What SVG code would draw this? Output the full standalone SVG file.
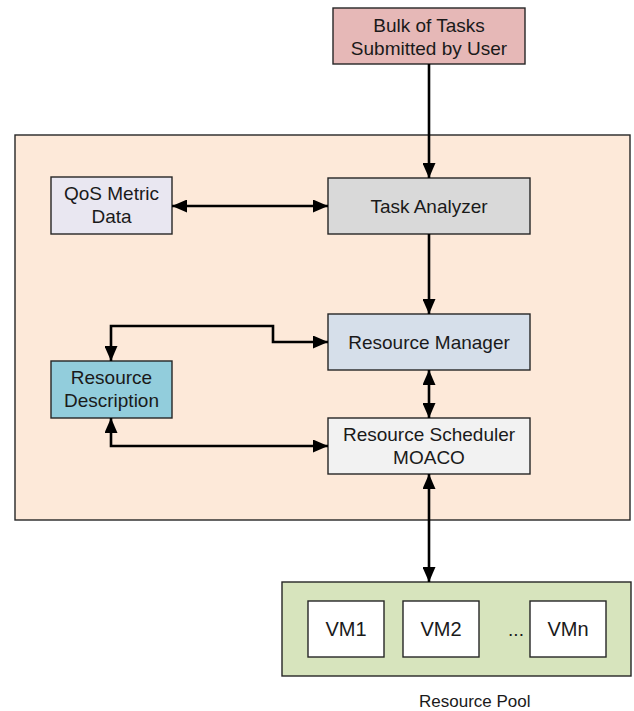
<svg xmlns="http://www.w3.org/2000/svg" width="634" height="711" viewBox="0 0 634 711">
<style>
.box{stroke:#262626;stroke-width:1.4}
.t{font-family:"Liberation Sans",Arial,sans-serif;font-size:19px;fill:#1a1a1a;text-anchor:middle}
.vm{font-size:20px}
.c{fill:none;stroke:#000;stroke-width:2.6}
</style>
<defs>
<marker id="ah" viewBox="0 0 15 13" refX="15" refY="6.5" markerWidth="15" markerHeight="13" markerUnits="userSpaceOnUse" orient="auto-start-reverse">
<path d="M0,0 L15,6.5 L0,13 Z" fill="#000"/>
</marker>
</defs>
<rect width="634" height="711" fill="#fff"/>
<g id="container">
<rect class="box" x="15" y="135" width="615" height="385" fill="#fde9d9"/>
</g>
<g id="bulk">
<rect class="box" x="333" y="8" width="192" height="56" fill="#e6b8b7"/>
<text class="t" x="429" y="32">Bulk of Tasks</text>
<text class="t" x="429" y="55">Submitted by User</text>
</g>
<g id="qos">
<rect class="box" x="51" y="177" width="121" height="57" fill="#e9e7f1"/>
<text class="t" x="111.5" y="200">QoS Metric</text>
<text class="t" x="111.5" y="223">Data</text>
</g>
<g id="task-analyzer">
<rect class="box" x="328" y="178" width="202" height="56" fill="#d9d9d9"/>
<text class="t" x="429" y="213">Task Analyzer</text>
</g>
<g id="resource-manager">
<rect class="box" x="328" y="314" width="202" height="56" fill="#d6dfea"/>
<text class="t" x="429" y="349">Resource Manager</text>
</g>
<g id="resource-description">
<rect class="box" x="51" y="361" width="121" height="57" fill="#92cddc"/>
<text class="t" x="111.5" y="384">Resource</text>
<text class="t" x="111.5" y="407">Description</text>
</g>
<g id="resource-scheduler">
<rect class="box" x="328" y="418" width="202" height="56" fill="#f2f2f2"/>
<text class="t" x="429" y="441">Resource Scheduler</text>
<text class="t" x="429" y="464">MOACO</text>
</g>
<g id="resource-pool">
<rect class="box" x="282" y="582" width="349" height="94" fill="#d7e4bd"/>
<text class="t" x="419" y="707" style="text-anchor:start;font-size:17px">Resource Pool</text>
</g>
<g id="vm1">
<rect class="box" x="308" y="601" width="76" height="56" fill="#fff"/>
<text class="t vm" x="346" y="636">VM1</text>
</g>
<g id="vm2">
<rect class="box" x="403" y="601" width="76" height="56" fill="#fff"/>
<text class="t vm" x="441" y="636">VM2</text>
</g>
<g id="dots">
<text class="t" x="516" y="636">...</text>
</g>
<g id="vmn">
<rect class="box" x="530" y="601" width="76" height="56" fill="#fff"/>
<text class="t vm" x="568" y="636">VMn</text>
</g>
<g id="connectors">
<path class="c" d="M429,64 V178" marker-end="url(#ah)"/>
<path class="c" d="M172,206 H328" marker-start="url(#ah)" marker-end="url(#ah)"/>
<path class="c" d="M429,234 V314" marker-end="url(#ah)"/>
<path class="c" d="M328,342 H273 V326 H111 V361" marker-start="url(#ah)" marker-end="url(#ah)"/>
<path class="c" d="M429,370 V418" marker-start="url(#ah)" marker-end="url(#ah)"/>
<path class="c" d="M111,418 V446 H328" marker-start="url(#ah)" marker-end="url(#ah)"/>
<path class="c" d="M429,474 V582" marker-start="url(#ah)" marker-end="url(#ah)"/>
</g>
</svg>
